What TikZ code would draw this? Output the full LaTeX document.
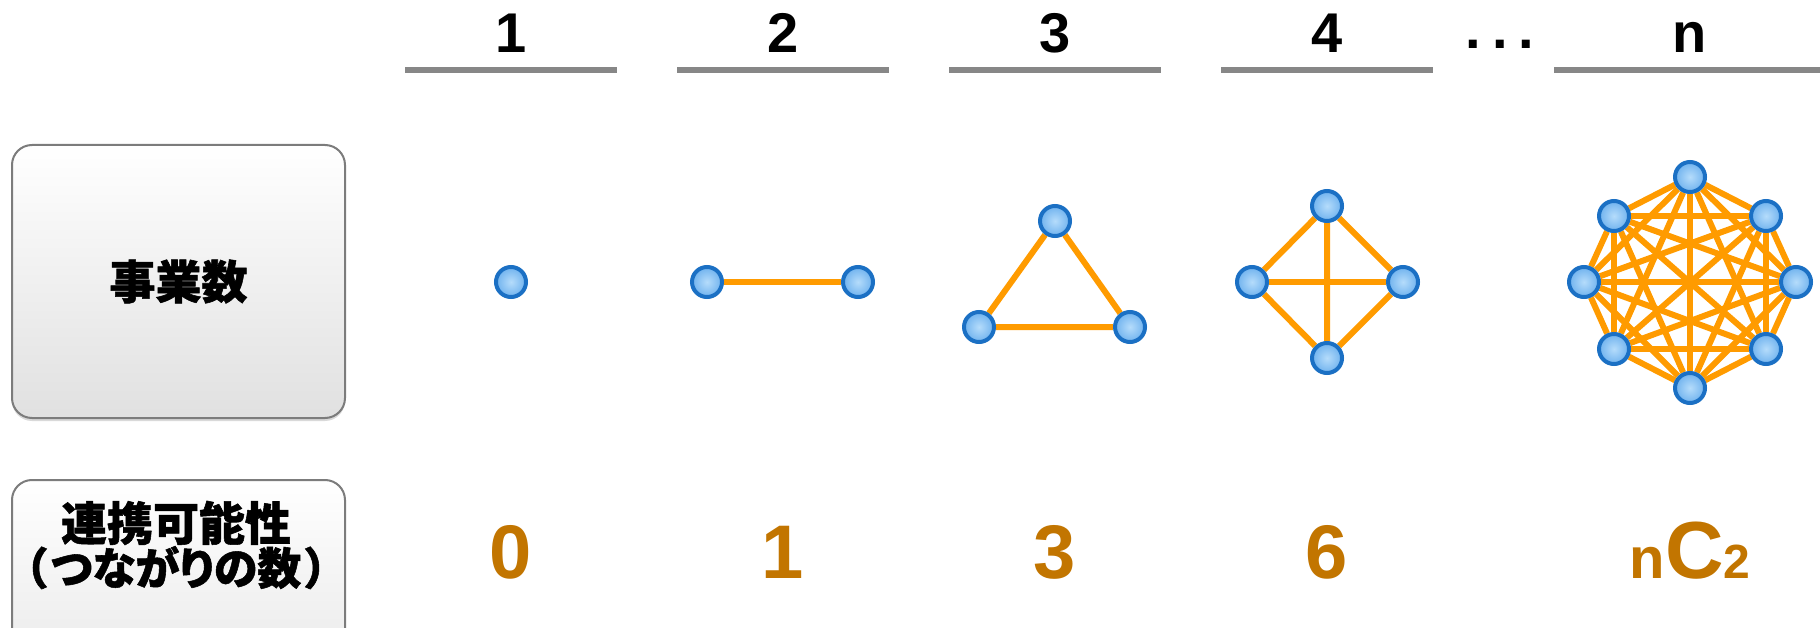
\documentclass[tikz,border=0pt]{standalone}
\usepackage{fontspec}
\setmainfont{Liberation Sans}
\newfontfamily\jpfont{Noto Sans CJK JP}[BoldFeatures={FakeBold=1.2}]
\usetikzlibrary{shadows,backgrounds}
\definecolor{Edge}{HTML}{FF9B00}
\definecolor{Rim}{HTML}{1B70C4}
\definecolor{Core}{HTML}{B5DCFB}
\definecolor{Shell}{HTML}{6FB2EE}
\definecolor{Count}{HTML}{C27500}
\definecolor{Rule}{HTML}{878787}
\definecolor{Frame}{HTML}{7C7C7C}

\tikzset{
  vertex/.style={circle,draw=Rim,line width=4pt,inner color=Core,outer color=Shell,
    minimum size=30pt,inner sep=0pt,
    drop shadow={shadow xshift=0pt,shadow yshift=-2pt,opacity=0.2}},
  link/.style={Edge,line width=6pt},
  panel/.style={draw=Frame,line width=2pt,rounded corners=20pt,top color=white,bottom color=black!12,
    minimum width=333pt,minimum height=273pt,inner sep=0pt,
    drop shadow={shadow xshift=0pt,shadow yshift=-3pt,opacity=0.3}},
  head/.style={anchor=base,inner sep=0pt,font=\fontsize{56}{60}\selectfont\bfseries},
  tally/.style={anchor=base,inner sep=0pt,text=Count,font=\fontsize{76}{80}\selectfont\bfseries},
  rulebar/.style={Rule,line width=6pt}
}

\begin{document}
\begin{tikzpicture}[x=1pt,y=-1pt]
  \useasboundingbox (0,0) rectangle (1820,628);
  \clip (0,0) rectangle (1820,628);
  \node[panel] (sizebox) at (178.5,281.5) {\jpfont\bfseries\fontsize{46}{46}\selectfont 事業数};
  \node[panel,anchor=north] (linkbox) at (178.5,479) {};
  \node[align=center,inner sep=0pt,font=\jpfont\bfseries] (linktext) at (176,545)
    {\fontsize{46}{42}\selectfont 連携可能性\\\fontsize{44}{42}\selectfont\addfontfeatures{RawFeature=+palt}（\kern4pt つながりの数\kern4pt ）};
  \foreach \c/\h/\v [count=\i] in {511/1/0,783/2/1,1055/3/3,1327/4/6} {
    \draw[rulebar] (\c-106,70) -- (\c+106,70);
    \node[head] (head\i) at (\c,53) {\h};
    \node[tally] (tally\i) at (\c,578) {\v};
  }
  \draw[rulebar] (1554,70) -- (1826,70);
  \node[head] (headn) at (1690,53) {n};
  \node[head] (dots) at (1500,53) {\raisebox{4pt}{.\hspace{11pt}.\hspace{11pt}.}};
  \node[tally] (tallyn) at (1690,578) {{\fontsize{58}{60}\selectfont n}{\fontsize{81}{90}\selectfont C}{\fontsize{48}{50}\selectfont 2}};

  \node[vertex] (a1) at (511,282) {};
  \node[vertex] (b1) at (707,282) {};
  \node[vertex] (b2) at (858,282) {};
  \node[vertex] (c1) at (1055,221) {};
  \node[vertex] (c2) at (979,327) {};
  \node[vertex] (c3) at (1130,327) {};
  \node[vertex] (d1) at (1327,206) {};
  \node[vertex] (d2) at (1252,282) {};
  \node[vertex] (d3) at (1403,282) {};
  \node[vertex] (d4) at (1327,358) {};
  \foreach \p [count=\i] in {(1690,177),(1766,216),(1796,282),(1766,349),(1690,388),(1614,349),(1584,282),(1614,216)}
    \node[vertex] (e\i) at \p {};

  \begin{scope}[on background layer]
    \draw[link] (b1) -- (b2);
    \draw[link] (c1) -- (c2) -- (c3) -- (c1);
    \draw[link] (d1) -- (d2) -- (d4) -- (d3) -- (d1) -- (d4);
    \draw[link] (d2) -- (d3);
    \foreach \i in {1,...,7} {
      \pgfmathtruncatemacro\k{\i+1}
      \foreach \j in {\k,...,8}
        \draw[link] (e\i) -- (e\j);
    }
  \end{scope}
\end{tikzpicture}
\end{document}
